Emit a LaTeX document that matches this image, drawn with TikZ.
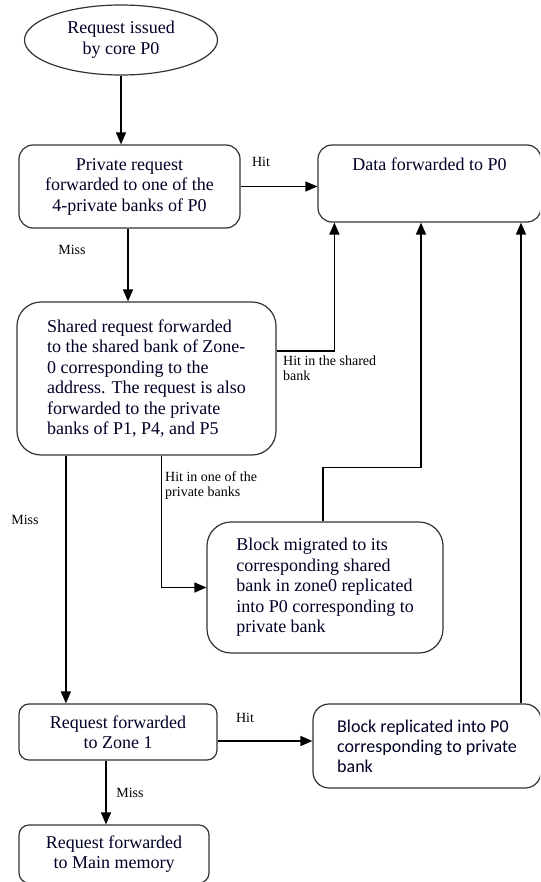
\documentclass[tikz,border=0pt]{standalone}
\usepackage{fontspec}
\setmainfont{Liberation Serif}
\newfontfamily\carlitofont{Carlito}
\usetikzlibrary{arrows.meta,shapes.geometric}
\begin{document}
\begin{tikzpicture}[x=1pt,y=-1pt,
  box/.style={draw=black!80, line width=1.2pt, rounded corners=#1, inner sep=0pt,
    font=\fontsize{18}{20.5}\selectfont, text=black!85!blue},
  box/.default=14pt,
  conn/.style={line width=1.5pt, -{Triangle[length=12pt,width=10pt]}},
  lbl/.style={font=\fontsize{14}{15}\selectfont, inner sep=0pt, align=left}]
\useasboundingbox (0,0) rectangle (540,882);
\clip (0,0) rectangle (540,882);
\node[draw=black!80, line width=1.2pt, ellipse, minimum width=193pt, minimum height=70pt,
  inner sep=0pt, align=center, font=\fontsize{18}{21}\selectfont, text=black!85!blue]
  (start) at (121,40) {Request issued\\by core P0};
\node[box, minimum width=221pt, minimum height=83pt, align=center]
  (priv) at (129.5,186.5) {Private request\\forwarded to one of the\\4-private banks of P0};
\node[box, minimum width=223pt, minimum height=77pt, align=center]
  (data) at (429.5,183.5) {Data forwarded to P0\\[18pt]~};
\node[box=24pt, minimum width=259pt, minimum height=153pt, align=left]
  (shared) at (146.5,378.5) {Shared request forwarded\\to the shared bank of Zone-\\0 corresponding to the\\address. The request is also\\forwarded to the private\\banks of P1, P4, and P5};
\node[box=24pt, minimum width=236pt, minimum height=131pt, align=left]
  (migr) at (325,587.5) {Block migrated to its\\corresponding shared\\bank in zone0 replicated\\into P0 corresponding to\\private bank};
\node[box=10pt, minimum width=198pt, minimum height=56pt, align=center]
  (zone) at (118,732) {Request forwarded\\to Zone 1};
\node[box=16pt, minimum width=228pt, minimum height=84pt, align=left,
  font=\carlitofont\fontsize{18}{20}\selectfont]
  (rep) at (427,746) {Block replicated into P0\\corresponding to private\\bank};
\node[box=10pt, minimum width=190pt, minimum height=58pt, align=center]
  (main) at (114,854) {Request forwarded\\to Main memory};

\draw[conn] (start.south) -- (start.south |- priv.north);
\draw[conn] (priv.east) -- (data.west |- priv.east);
\draw[conn] ([xshift=-1.5pt]priv.south) -- ([xshift=-1.5pt]priv.south |- shared.north);
\draw[conn] ([yshift=27.5pt]shared.east) -| ([xshift=17pt]data.south west);
\draw[conn] ([xshift=49.5pt]shared.south west) -- ([xshift=49.5pt]shared.south west |- zone.north);
\draw[conn] ([xshift=145pt]shared.south west) |- (migr.west);
\draw[conn] ([xshift=-2pt]migr.north) -- ++(0,-54) -| ([xshift=-8.5pt]data.south);
\draw[conn] ([yshift=-9pt]zone.east) -- ([yshift=-9pt]zone.east -| rep.west);
\draw[conn] ([xshift=94pt]rep.north) -- ([xshift=94pt]rep.north |- data.south);
\draw[conn] ([xshift=-12pt]zone.south) -- ([xshift=-12pt]zone.south |- main.north);

\node[lbl] (l1) at (261,162) {Hit};
\node[lbl] (l2) at (72,250) {Miss};
\node[lbl, anchor=north west] (l3) at (283,356) {Hit in the shared\\bank};
\node[lbl] (l4) at (25,520) {Miss};
\node[lbl, anchor=north west] (l5) at (165,471) {Hit in one of the\\private banks};
\node[lbl] (l6) at (245,718) {Hit};
\node[lbl] (l7) at (130,793) {Miss};
\end{tikzpicture}
\end{document}
